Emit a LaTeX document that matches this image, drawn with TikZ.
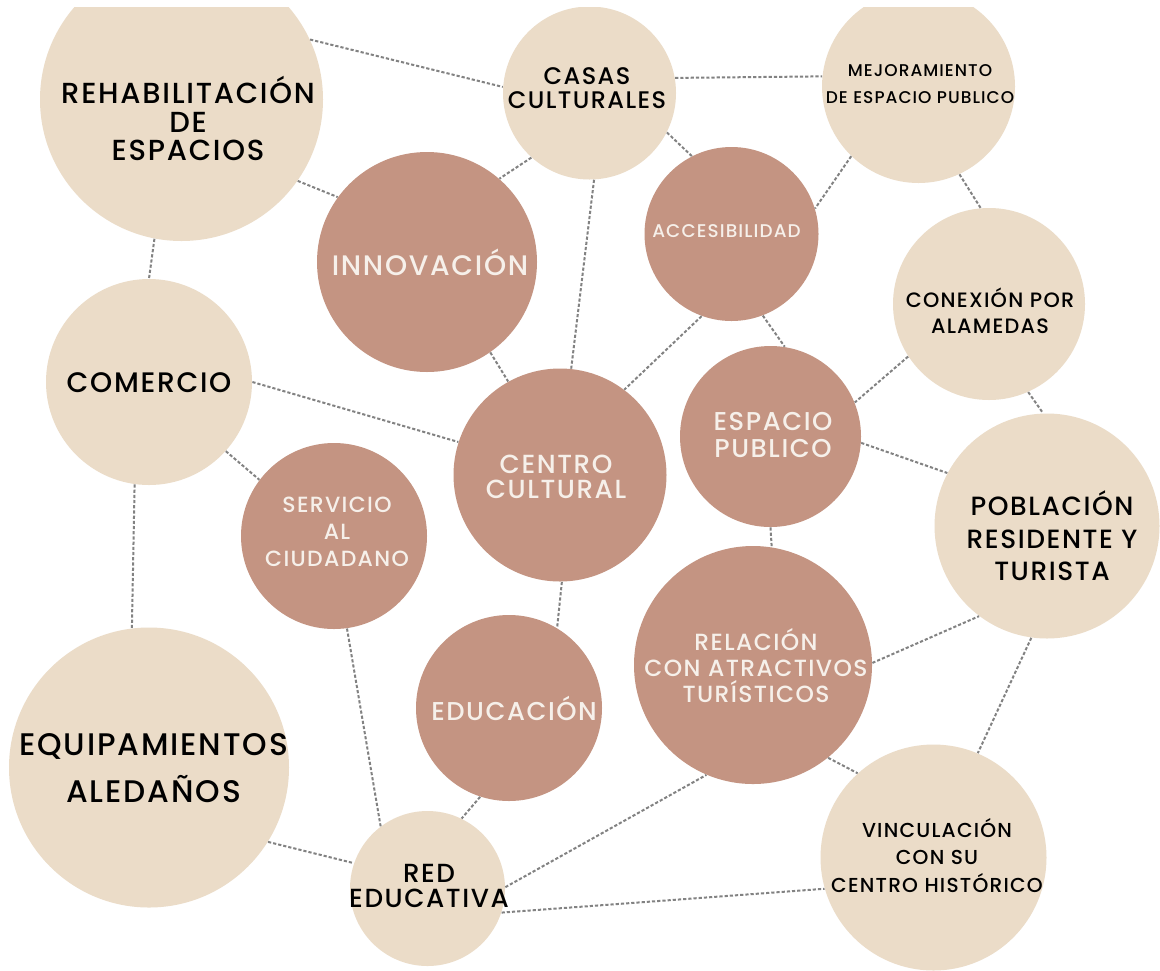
\documentclass[tikz,border=0pt]{standalone}
\usepackage{fontspec}
\setmainfont{Poppins}[UprightFont={* Medium},LetterSpace=6]
\usepackage{tikz}
\definecolor{Sand}{HTML}{EBDCC8}
\definecolor{Clay}{HTML}{C49482}
\definecolor{Cream}{HTML}{F6F0EA}
\definecolor{Grey}{HTML}{828282}
\tikzset{
  bubble/.style={circle,draw=none,inner sep=0pt},
  sand/.style={bubble,fill=Sand},
  clay/.style={bubble,fill=Clay},
  darktext/.style={align=center,inner sep=0pt,text=black},
  lighttext/.style={align=center,inner sep=0pt,text=Cream},
  link/.style={draw=Grey,line width=1pt,dash pattern=on 1.6pt off 1pt}
}
\newcommand{\fs}[2]{\fontsize{#1}{#2}\selectfont}

\begin{document}
\begin{tikzpicture}[x=0.5pt,y=-0.5pt]
  \useasboundingbox (0,0) rectangle (1160,970);
  \fill[white] (0,0) rectangle (1160,970);
  \begin{scope}
    \clip (0,7) rectangle (1160,970);
    \node[sand,minimum size=141.5pt] (rehab) at (181.5,99.5) {};
    \node[sand,minimum size=86.5pt] (casas) at (589.5,93) {};
    \node[sand,minimum size=96.5pt] (mejora) at (918.5,86.5) {};
    \node[clay,minimum size=110pt] (innov) at (427,262) {};
    \node[clay,minimum size=87pt] (acces) at (731.5,234) {};
    \node[sand,minimum size=96pt] (conexion) at (989,304) {};
    \node[sand,minimum size=103pt] (comercio) at (149,382) {};
    \node[clay,minimum size=106.5pt] (centro) at (560,475) {};
    \node[clay,minimum size=90.5pt] (espacio) at (770.5,436.5) {};
    \node[sand,minimum size=112.5pt] (poblacion) at (1047,526) {};
    \node[clay,minimum size=93pt] (servicio) at (334,536) {};
    \node[clay,minimum size=93pt] (educa) at (509,708) {};
    \node[clay,minimum size=119pt] (relacion) at (753,665) {};
    \node[sand,minimum size=140pt] (equipa) at (149,767.5) {};
    \node[sand,minimum size=77.5pt] (red) at (427.5,888.5) {};
    \node[sand,minimum size=113pt] (vincula) at (933.5,857.5) {};
  \end{scope}

  \draw[link] (rehab.25) -- (casas.176);
  \draw[link] (rehab.-35) -- (innov.144);
  \draw[link] (rehab.-101) -- (comercio.90);
  \draw[link] (casas.-132) -- (innov.49);
  \draw[link] (casas.10) -- (mejora.174);
  \draw[link] (casas.-27) -- (acces.117);
  \draw[link] (casas.-87) -- (centro.84);
  \draw[link] (mejora.-134) -- (acces.17);
  \draw[link] (mejora.-65) -- (conexion.95);
  \draw[link] (innov.-55) -- (centro.119);
  \draw[link] (acces.-110) -- (centro.53);
  \draw[link] (acces.-69) -- (espacio.81);
  \draw[link] (conexion.-147) -- (espacio.22);
  \draw[link] (conexion.-66) -- (poblacion.92);
  \draw[link] (espacio.-4) -- (poblacion.152);
  \draw[link] (comercio.0) -- (centro.162);
  \draw[link] (comercio.-42) -- (servicio.143);
  \draw[link] (comercio.-98) -- (equipa.97);
  \draw[link] (servicio.-82) -- (red.127);
  \draw[link] (centro.-89) -- (educa.59);
  \draw[link] (espacio.-90) -- (relacion.81);
  \draw[link] (educa.-108) -- (red.64);
  \draw[link] (equipa.-32) -- (red.161);
  \draw[link] (red.1) -- (relacion.-113);
  \draw[link] (red.-18) -- (vincula.196);
  \draw[link] (relacion.1) -- (poblacion.-127);
  \draw[link] (relacion.-51) -- (vincula.132);
  \draw[link] (poblacion.-98) -- (vincula.67);

  \node[darktext,font=\fs{14.5}{14.25}] (rehabtxt) at (188,118.5) {REHABILITACIÓN\\DE\\ESPACIOS};
  \node[darktext,font=\fs{12}{11.75}] (casastxt) at (587,88) {CASAS\\CULTURALES};
  \node[darktext,font=\fs{8.5}{13.5}] (mejoratxt) at (920,84.5) {MEJORAMIENTO\\DE ESPACIO PUBLICO};
  \node[lighttext,font=\fs{14.1}{14}] (innovtxt) at (430,262.5) {INNOVACIÓN};
  \node[lighttext,font=\fs{9.2}{10}] (accestxt) at (726.5,231) {ACCESIBILIDAD};
  \node[darktext,font=\fs{10.4}{13.25}] (conexiontxt) at (990,311) {CONEXIÓN POR\\ALAMEDAS};
  \node[darktext,font=\fs{14.1}{14}] (comerciotxt) at (149,383) {COMERCIO};
  \node[lighttext,font=\fs{13.1}{12.5}] (centrotxt) at (556,476.5) {CENTRO\\CULTURAL};
  \node[lighttext,font=\fs{12.9}{13.25}] (espaciotxt) at (773,435) {ESPACIO\\PUBLICO};
  \node[darktext,font=\fs{13.2}{16.25}] (poblaciontxt) at (1052,536) {POBLACIÓN\\RESIDENTE Y\\TURISTA};
  \node[lighttext,font=\fs{11}{13.5}] (serviciotxt) at (337,532) {SERVICIO\\AL\\CIUDADANO};
  \node[lighttext,font=\fs{12.9}{13}] (educatxt) at (514,708.5) {EDUCACIÓN};
  \node[lighttext,font=\fs{11.7}{13}] (relaciontxt) at (756,666) {RELACIÓN\\CON ATRACTIVOS\\TURÍSTICOS};
  \node[darktext,font=\fs{15.6}{23.75}] (equipatxt) at (153.5,768) {EQUIPAMIENTOS\\ALEDAÑOS};
  \node[darktext,font=\fs{13.1}{12.5}] (redtxt) at (429,885.5) {RED\\EDUCATIVA};
  \node[darktext,font=\fs{10.1}{13.6}] (vinculatxt) at (937,855.5) {VINCULACIÓN\\CON SU\\CENTRO HISTÓRICO};
\end{tikzpicture}
\end{document}
